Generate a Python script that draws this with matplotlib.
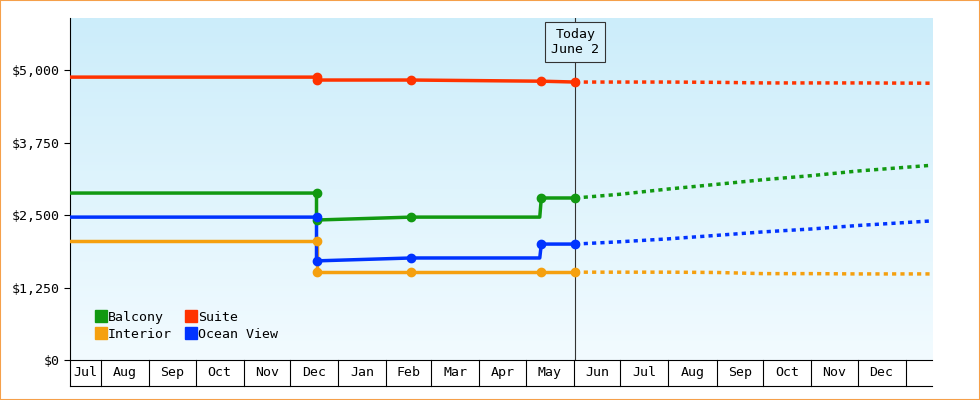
import numpy as np
import matplotlib.pyplot as plt
import matplotlib.dates as mdates
from matplotlib.patches import Rectangle
import datetime as dt

plt.rcParams['font.family'] = ['DejaVu Sans Mono']

D = lambda s: dt.datetime.strptime(s, '%Y-%m-%d')

# history: change dates and prices
hist_dates = ['2023-07-12', '2023-12-18', '2023-12-18', '2024-02-17', '2024-05-10', '2024-05-11', '2024-06-02']
balcony    = [2880, 2880, 2415, 2465, 2465, 2795, 2795]
suite      = [4880, 4880, 4830, 4830, 4810, 4810, 4795]
ocean_view = [2465, 2465, 1710, 1760, 1760, 2000, 2000]
interior   = [2050, 2050, 1515, 1515, 1515, 1515, 1515]
marker_idx = [1, 2, 3, 5, 6]

# forecast
fc_dates = ['2024-06-02', '2024-07-01', '2024-08-01', '2024-09-01', '2024-10-01',
            '2024-11-01', '2024-12-01', '2025-01-18']
fc_balcony    = [2795, 2860, 2950, 3030, 3110, 3180, 3260, 3360]
fc_suite      = [4795, 4795, 4795, 4790, 4780, 4780, 4780, 4775]
fc_ocean_view = [2000, 2040, 2090, 2150, 2210, 2260, 2320, 2400]
fc_interior   = [1515, 1515, 1515, 1510, 1490, 1490, 1485, 1485]

months = ['Jul', 'Aug', 'Sep', 'Oct', 'Nov', 'Dec', 'Jan', 'Feb', 'Mar', 'Apr', 'May',
          'Jun', 'Jul', 'Aug', 'Sep', 'Oct', 'Nov', 'Dec']
yticks = [0, 1250, 2500, 3750, 5000]

colors = {'Balcony': '#119911', 'Suite': '#ff3300', 'Interior': '#f5a00f', 'Ocean View': '#0033ff'}

fig = plt.figure(figsize=(9.8, 4), dpi=100)
fig.patches.append(Rectangle((0.0005, 0.001), 0.999, 0.998, transform=fig.transFigure,
                             fill=False, edgecolor='#f5a04a', linewidth=1.5))
ax = fig.add_axes([70/980, 40/400, 862/980, 342/400])

x0, x1 = D('2023-07-12'), D('2025-01-18')
ax.set_xlim(x0, x1)
ax.set_ylim(0, 5900)

grad = np.linspace(0, 1, 256).reshape(-1, 1)
cmap = plt.matplotlib.colors.LinearSegmentedColormap.from_list('g', ['#f2fbff', '#ccedfa'])
ax.imshow(grad, extent=[0, 1, 0, 1], transform=ax.transAxes, origin='lower',
          cmap=cmap, aspect='auto', zorder=0)

hd = [D(s) for s in hist_dates]
fd = [D(s) for s in fc_dates]
series = [('Balcony', balcony, fc_balcony), ('Interior', interior, fc_interior),
          ('Suite', suite, fc_suite), ('Ocean View', ocean_view, fc_ocean_view)]
for name, h, f in series:
    c = colors[name]
    ax.plot(hd, h, color=c, lw=2.5, zorder=3)
    ax.plot([hd[i] for i in marker_idx], [h[i] for i in marker_idx], 'o', color=c, ms=6, zorder=4)
    ax.plot(fd, f, color=c, lw=2.5, ls=(0, (1.2, 1.2)), zorder=3)
    ax.plot([], [], 's', color=c, ms=8, label=name)

today = D('2024-06-02')
ax.axvline(today, color='#333333', lw=0.8, zorder=2)
ax.annotate('Today\nJune 2', (mdates.date2num(today), 1.0), xycoords=('data', 'axes fraction'),
            xytext=(0, -17), textcoords='offset points', ha='center', va='center',
            fontsize=9.5, bbox=dict(boxstyle='square,pad=0.45', fc='#d8f1fb', ec='#333333', lw=0.8),
            zorder=5)

ax.legend(loc='lower left', ncol=2, frameon=False, fontsize=9.5, handletextpad=0.0,
          columnspacing=1.0, borderaxespad=0.8, labelspacing=0.3, handlelength=1,
          bbox_to_anchor=(0.01, 0.01))

ax.set_yticks(yticks)
ax.set_yticklabels(['$0' if v == 0 else '${:,}'.format(v) for v in yticks], fontsize=9.5)
for s in ['top', 'right']:
    ax.spines[s].set_visible(False)
ax.tick_params(axis='y', length=4)
ax.set_xticks([])

# month boxes under the axis
tr = ax.get_xaxis_transform()
bounds = [x0] + [dt.datetime(2023 + (7 + i) // 12, (7 + i) % 12 + 1, 1) for i in range(len(months) - 1)]
bounds.append(dt.datetime(2025, 1, 1))
for i, m in enumerate(months):
    a, b = bounds[i], bounds[i + 1]
    mid = a + (b - a) / 2
    ax.text(mid, -0.038, m, transform=tr, ha='center', va='center', fontsize=9.5)
    ax.plot([b, b], [0, -0.075], transform=tr, color='black', lw=0.8, clip_on=False)
ax.plot([0, 1], [-0.075, -0.075], transform=ax.transAxes, color='black', lw=0.8, clip_on=False)
ax.plot([0, 0], [0, -0.075], transform=ax.transAxes, color='black', lw=0.8, clip_on=False)

fig.savefig('out.png', dpi=100)
